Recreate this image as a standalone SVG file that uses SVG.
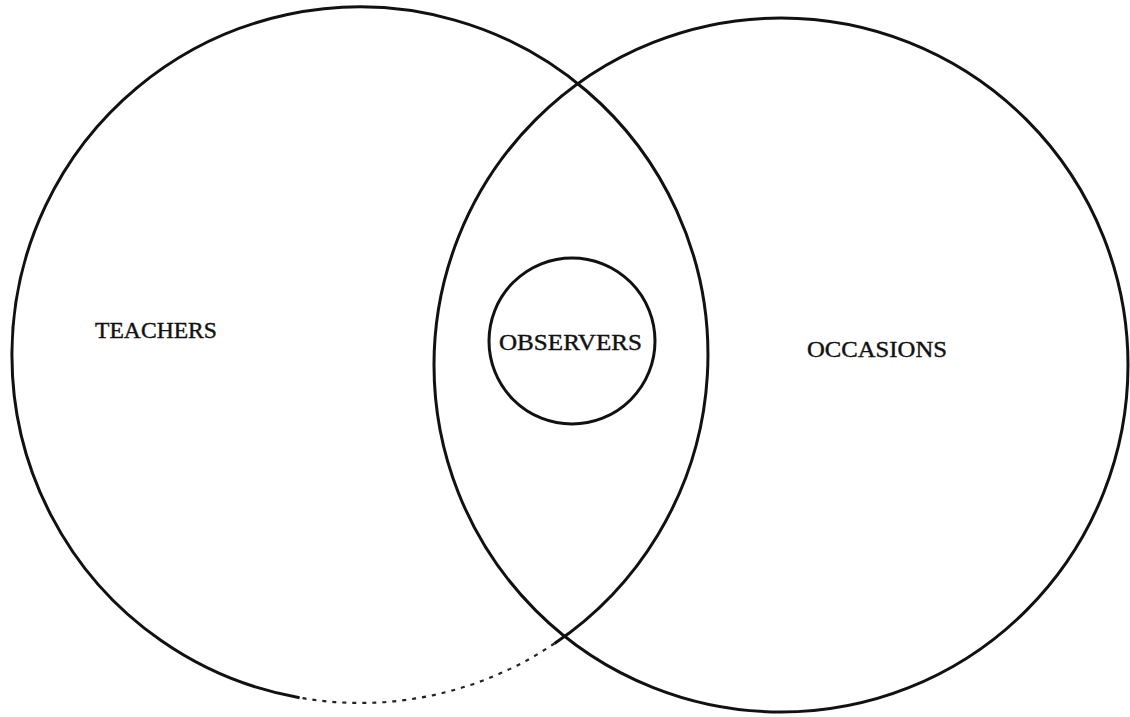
<svg xmlns="http://www.w3.org/2000/svg" width="1130" height="717" viewBox="0 0 1130 717">
  <style>
    .ring { fill: none; stroke: #111; stroke-width: 3; }
    .dots { fill: none; stroke: #222; stroke-width: 2.2; stroke-dasharray: 4 6; }
    .label { font-family: "Liberation Serif", "DejaVu Serif", serif; font-size: 23px; fill: #111; stroke: #111; stroke-width: 0.4; }
  </style>
  <rect width="1130" height="717" fill="#fff"/>
  <g id="teachers">
    <path class="ring" d="M299.6,697.7 A348,348 0 1 1 554.5,643.5"/>
    <path class="dots" d="M554.5,643.5 A348,348 0 0 1 299.6,697.7"/>
    <text class="label" x="95" y="338" textLength="122" lengthAdjust="spacingAndGlyphs">TEACHERS</text>
  </g>
  <g id="occasions">
    <circle class="ring" cx="781" cy="365" r="347"/>
    <text class="label" x="807" y="357" textLength="140" lengthAdjust="spacingAndGlyphs">OCCASIONS</text>
  </g>
  <g id="observers">
    <circle class="ring" cx="572" cy="341" r="83"/>
    <text class="label" x="499" y="350" textLength="143" lengthAdjust="spacingAndGlyphs">OBSERVERS</text>
  </g>
</svg>
